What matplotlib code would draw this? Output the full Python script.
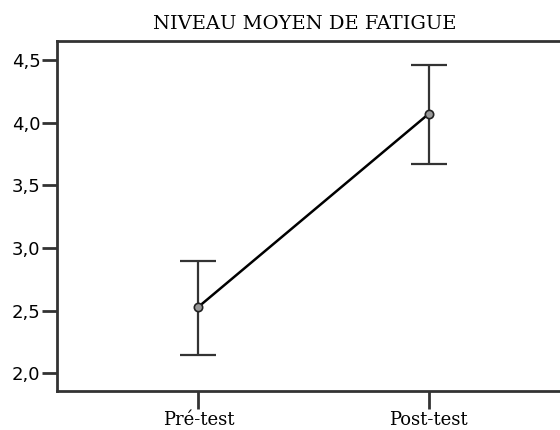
import matplotlib
matplotlib.use("Agg")
import matplotlib.pyplot as plt
from matplotlib.ticker import FuncFormatter

# mean fatigue score with error bars, before and after
tests = ['Pré-test', 'Post-test']
means = [2.53, 4.07]
lower = [2.15, 3.67]
upper = [2.90, 4.46]
yticks = [2.0, 2.5, 3.0, 3.5, 4.0, 4.5]

xpos = list(range(len(tests)))
err_lo = [m - lo for m, lo in zip(means, lower)]
err_hi = [hi - m for m, hi in zip(means, upper)]

fig = plt.figure(figsize=(5.6, 4.3), dpi=100)
ax = fig.add_axes([57/560, 39/430, 513/560, 350/430])

ax.errorbar(xpos, means, yerr=[err_lo, err_hi], fmt='none', ecolor='#333333',
            elinewidth=1.6, capsize=13, capthick=1.6, zorder=2)
ax.plot(xpos, means, color='black', lw=1.8, marker='o', ms=6,
        mfc='#999999', mec='#222222', mew=1.2, zorder=3)

ax.set_xlim(-0.614, 1.614)
ax.set_ylim(1.859, 4.652)
ax.set_xticks(xpos)
ax.set_xticklabels(tests, family='DejaVu Serif', fontsize=13)
ax.set_yticks(yticks)
ax.yaxis.set_major_formatter(FuncFormatter(lambda v, p: f'{v:.1f}'.replace('.', ',')))
for lab in ax.get_yticklabels():
    lab.set_family('DejaVu Sans')
    lab.set_fontsize(13)

for side in ['left', 'bottom', 'top']:
    ax.spines[side].set_linewidth(2)
    ax.spines[side].set_color('#333333')
ax.spines['right'].set_visible(False)
ax.tick_params(axis='y', length=11, width=2, color='#333333', pad=1)
ax.tick_params(axis='x', length=13, width=2, color='#333333', pad=1.5)

fig.text(305/560, 1 - 24/430, 'NIVEAU MOYEN DE FATIGUE', family='DejaVu Serif',
         fontsize=14, ha='center', va='center')

fig.savefig('out.png', dpi=100)
